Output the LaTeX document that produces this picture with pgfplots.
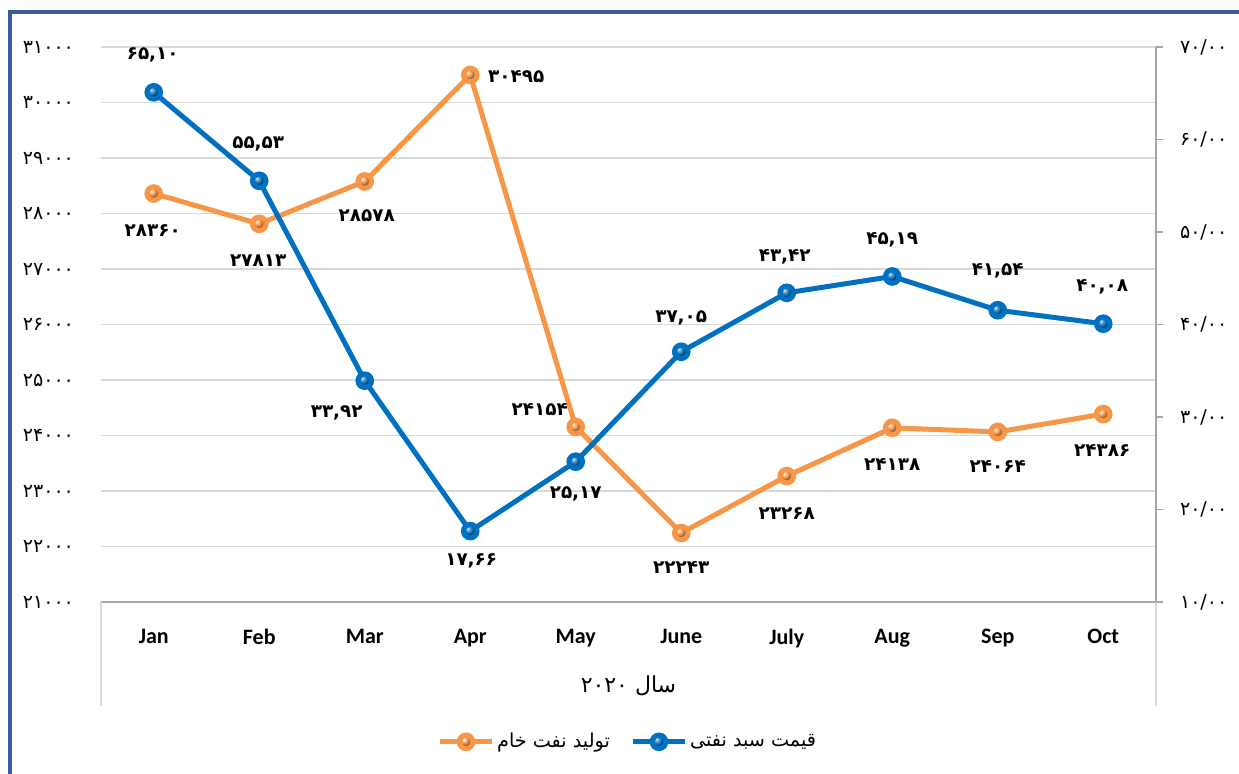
\documentclass[border=0pt]{standalone}
\usepackage{fontspec}
\setmainfont{Carlito}
\newfontfamily\arabicfont[Script=Arabic]{DejaVu Sans}
\usepackage{pgfplots}
\usepackage{pgfplotstable}
\pgfplotsset{compat=1.18}
\TeXXeTstate=1
\definecolor{lineblue}{HTML}{0070C0}
\definecolor{lineorange}{HTML}{F79646}
\definecolor{frameblue}{HTML}{3A5BA0}
\definecolor{gridgray}{HTML}{D9D9D9}
\definecolor{axgray}{HTML}{A6A6A6}

\pgfplotstableread{
x y lab dx dy
0 28360 ۲۸۳۶۰ -0.5 -18.5
1 27813 ۲۷۸۱۳ -0.5 -18.5
2 28578 ۲۸۵۷۸ 1 -17
3 30495 ۳۰۴۹۵ 23 -1
4 24154 ۲۴۱۵۴ -18 8.5
5 22243 ۲۲۲۴۳ 0 -17.5
6 23268 ۲۳۲۶۸ 0 -18.5
7 24138 ۲۴۱۳۸ 0 -18.5
8 24064 ۲۴۰۶۴ 0 -17.5
9 24386 ۲۴۳۸۶ -0.5 -18
}\prodtable

\pgfplotstableread{
x y lab dx dy
0 65.10 ۶۵,۱۰ -0.5 18.5
1 55.53 ۵۵,۵۳ -0.5 18.5
2 33.92 ۳۳,۹۲ -14 -16
3 17.66 ۱۷,۶۶ 0.5 -15
4 25.17 ۲۵,۱۷ 0 -16
5 37.05 ۳۷,۰۵ 0 17
6 43.42 ۴۳,۴۲ -1 18
7 45.19 ۴۵,۱۹ 0 18.5
8 41.54 ۴۱,۵۴ 0 19.5
9 40.08 ۴۰,۰۸ -0.5 18.5
}\pricetable

\begin{document}
\begin{tikzpicture}
\path[use as bounding box, fill=white] (0,0) rectangle (619.5pt,387pt);
\draw[frameblue, line width=2pt] (5pt,0) -- (5pt,381pt) -- (619.5pt,381pt);

\pgfplotsset{
  common/.style={
    scale only axis, width=527.5pt, height=277.5pt,
    at={(50.5pt,86pt)}, anchor=south west,
    xmin=-0.5, xmax=9.5, clip=false,
  },
  labstyle/.style={
    point meta=explicit symbolic,
    nodes near coords,
    visualization depends on={\thisrow{dx}\as\dx},
    visualization depends on={\thisrow{dy}\as\dy},
    nodes near coords style={font=\arabicfont\bfseries\fontsize{9.2}{11}\selectfont,
      text=black, anchor=center, xshift=\dx pt, yshift=\dy pt},
  },
}

\begin{axis}[common,
  ymin=21000, ymax=31000,
  scaled y ticks=false,
  axis x line*=bottom, axis y line*=left,
  y axis line style={draw=none},
  x axis line style={axgray, line width=0.6pt},
  xtick={0,...,9},
  xticklabels={Jan,Feb,Mar,Apr,May,June,July,Aug,Sep,Oct},
  xticklabel style={font=\bfseries\fontsize{11}{13}\selectfont, text=black, yshift=-10pt},
  xtick style={draw=none},
  ytick={21000,22000,...,31000},
  yticklabels={۲۱۰۰۰,۲۲۰۰۰,۲۳۰۰۰,۲۴۰۰۰,۲۵۰۰۰,۲۶۰۰۰,۲۷۰۰۰,۲۸۰۰۰,۲۹۰۰۰,۳۰۰۰۰,۳۱۰۰۰},
  yticklabel style={font=\arabicfont\fontsize{9.5}{11}\selectfont, text=black, xshift=-10pt},
  ytick style={draw=none},
  ymajorgrids, grid style={gridgray, line width=0.6pt},
]
\draw[gridgray, line width=0.6pt] (axis description cs:0,0) -- (axis description cs:0,-0.1874);
\draw[gridgray, line width=0.6pt] (axis description cs:1,0) -- (axis description cs:1,-0.1874);
\node[font=\arabicfont\fontsize{11}{13}\selectfont] at (axis description cs:0.5,-0.151) {\beginR سال \beginL ۲۰۲۰\endL\endR};
\addplot[lineorange, line width=2.5pt, mark=ball, mark size=3.4pt,
  mark options={ball color=lineorange}, labstyle]
  table[x=x, y=y, meta=lab] {\prodtable};
\end{axis}

\begin{axis}[common,
  ymin=10, ymax=70,
  axis x line=none, axis y line*=right,
  y axis line style={axgray, line width=0.6pt},
  ytick={10,20,...,70},
  yticklabels={۱۰/۰۰,۲۰/۰۰,۳۰/۰۰,۴۰/۰۰,۵۰/۰۰,۶۰/۰۰,۷۰/۰۰},
  yticklabel style={font=\arabicfont\fontsize{9.5}{11}\selectfont, text=black, xshift=5pt},
  ytick style={axgray, line width=0.6pt},
  tick align=outside, major tick length=3.5pt,
  legend style={at={(0.5,-0.252)}, anchor=center, draw=none, fill=none,
    font=\arabicfont\fontsize{9.6}{12}\selectfont,
    /tikz/every even column/.append style={column sep=9pt},
    nodes={inner xsep=1.5pt}},
  legend columns=2,
  legend image code/.code={\draw[mark repeat=2, mark phase=2, #1] plot coordinates {(0cm,0cm) (0.45cm,0cm) (0.9cm,0cm)};},
]
\addlegendimage{lineorange, line width=2.5pt, mark=ball, mark size=3.4pt, mark options={ball color=lineorange}}
\addlegendentry{\beginR تولید نفت خام\endR}
\addplot[lineblue, line width=2.5pt, mark=ball, mark size=3.4pt,
  mark options={ball color=lineblue}, labstyle]
  table[x=x, y=y, meta=lab] {\pricetable};
\addlegendentry{\beginR قیمت سبد نفتی\endR}
\end{axis}
\end{tikzpicture}
\end{document}
